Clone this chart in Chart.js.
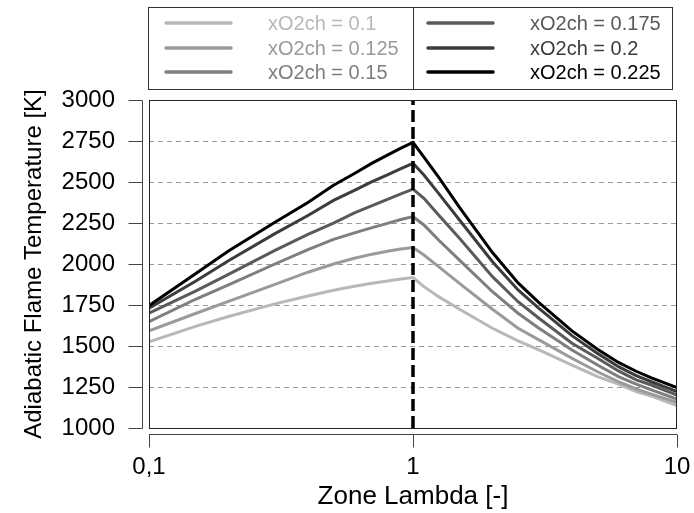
<!DOCTYPE html>
<html>
<head>
<meta charset="utf-8">
<script src="https://cdn.jsdelivr.net/npm/chart.js@4.4.1/dist/chart.umd.min.js"></script>
<style>
html, body { margin: 0; padding: 0; background: #fff; }
#wrap { width: 694px; height: 513px; position: relative; }
</style>
</head>
<body>
<div id="wrap"><canvas id="myChart"></canvas></div>
<script>
// Zone Lambda (x, log axis)
const lambdas = [0.1, 0.15, 0.2, 0.3, 0.4, 0.5, 0.6, 0.7, 0.8, 0.9, 1.0, 1.1, 1.25, 1.5, 2, 2.5, 3, 4, 5, 6, 7, 8, 10];

// adiabatic flame temperature [K] per xO2ch
const t100 = [1526, 1620, 1680, 1757, 1805, 1840, 1864, 1883, 1897, 1908, 1917, 1862, 1801, 1724, 1608, 1531, 1476, 1384, 1313, 1267, 1222, 1195, 1136];
const t125 = [1593, 1698, 1772, 1876, 1950, 2000, 2035, 2060, 2078, 2091, 2100, 2055, 1984, 1882, 1724, 1608, 1537, 1425, 1343, 1282, 1238, 1207, 1157];
const t150 = [1648, 1785, 1872, 2000, 2087, 2150, 2190, 2222, 2248, 2271, 2289, 2238, 2146, 2024, 1831, 1700, 1608, 1476, 1384, 1313, 1267, 1232, 1177];
const t175 = [1700, 1835, 1937, 2083, 2181, 2249, 2312, 2356, 2394, 2428, 2456, 2401, 2299, 2157, 1923, 1770, 1669, 1517, 1425, 1348, 1293, 1262, 1201];
const t200 = [1730, 1895, 2020, 2185, 2296, 2388, 2449, 2502, 2544, 2582, 2614, 2543, 2431, 2268, 2014, 1842, 1730, 1563, 1455, 1374, 1319, 1282, 1222];
const t225 = [1746, 1940, 2079, 2254, 2375, 2480, 2552, 2615, 2664, 2707, 2742, 2651, 2530, 2345, 2070, 1885, 1765, 1592, 1480, 1400, 1346, 1306, 1246];

const seriesLabels = ['xO2ch = 0.1', 'xO2ch = 0.125', 'xO2ch = 0.15', 'xO2ch = 0.175', 'xO2ch = 0.2', 'xO2ch = 0.225'];
const seriesValues = [t100, t125, t150, t175, t200, t225];
const seriesColors = ['#b8b8b8', '#9a9a9a', '#7e7e7e', '#5a5a5a', '#3c3c3c', '#000000'];

const xTicks = [0.1, 1, 10];
const xTickLabels = ['0,1', '1', '10'];
const yMin = 1000, yMax = 3000, yStep = 250;
const stoichLine = 1;

const fam = '"Liberation Sans", Arial, Helvetica, sans-serif';

function punkte(werte) {
	let p = [];
	for (let i = 0; i < lambdas.length; i++) {
		p.push({x: lambdas[i], y: werte[i]});
	}
	return p;
}

const datasets = [{
	label: 'lambda = 1',
	data: [{x: stoichLine, y: yMin}, {x: stoichLine, y: yMax}],
	borderColor: '#000',
	borderWidth: 3.5,
	borderDash: [12, 5],
	pointRadius: 0,
	order: 0
}];
seriesValues.forEach((werte, i) => {
	datasets.push({
		label: seriesLabels[i],
		data: punkte(werte),
		borderColor: seriesColors[i],
		borderWidth: 3,
		pointRadius: 0,
		tension: 0,
		fill: false,
		order: seriesValues.length - i
	});
});

// R-style box, detached axes and boxed two-column legend
const rahmen = {
	id: 'rahmen',
	afterDraw(chart) {
		const c = chart.ctx, a = chart.chartArea;
		const xs = chart.scales.x, ys = chart.scales.y;
		c.save();
		c.setLineDash([]);
		c.strokeStyle = '#222';
		c.lineWidth = 1;
		c.strokeRect(Math.round(a.left) + 0.5, Math.round(a.top) + 0.5, Math.round(a.right - a.left) - 1, Math.round(a.bottom - a.top));

		c.strokeStyle = '#444';
		const ax = Math.round(a.left) - 6.5;
		c.beginPath();
		c.moveTo(ax, ys.getPixelForValue(yMin) + 0.5);
		c.lineTo(ax, ys.getPixelForValue(yMax) + 0.5);
		ys.ticks.forEach(t => {
			const p = Math.round(ys.getPixelForValue(t.value)) + 0.5;
			c.moveTo(ax - 14, p);
			c.lineTo(ax, p);
		});
		const ay = Math.round(a.bottom) + 6.5;
		c.moveTo(xs.getPixelForValue(xTicks[0]), ay);
		c.lineTo(xs.getPixelForValue(xTicks[xTicks.length - 1]), ay);
		xTicks.forEach(v => {
			const p = Math.round(xs.getPixelForValue(v)) + 0.5;
			c.moveTo(p, ay);
			c.lineTo(p, ay + 13);
		});
		c.stroke();

		// legend
		const lx = 148.5, ly = 7.5, lw = 524, lh = 82, mid = 413.5;
		c.strokeStyle = '#333';
		c.strokeRect(lx, ly, lw, lh);
		c.beginPath();
		c.moveTo(mid, ly);
		c.lineTo(mid, ly + lh);
		c.stroke();
		const rows = [23, 48, 72];
		const cols = [{l: 166, t: 268}, {l: 428, t: 530}];
		c.font = '20px ' + fam;
		c.textBaseline = 'middle';
		c.textAlign = 'left';
		c.lineCap = 'round';
		seriesLabels.forEach((lab, i) => {
			const col = cols[Math.floor(i / 3)], y = rows[i % 3];
			c.strokeStyle = seriesColors[i];
			c.lineWidth = 3.5;
			c.beginPath();
			c.moveTo(col.l, y);
			c.lineTo(col.l + 65, y);
			c.stroke();
			c.fillStyle = seriesColors[i];
			c.fillText(lab, col.t, y + 1);
		});
		c.restore();
	}
};

new Chart(document.getElementById('myChart').getContext('2d'), {
	type: 'line',
	data: { datasets: datasets },
	options: {
		responsive: true,
		maintainAspectRatio: false,
		animation: false,
		devicePixelRatio: 1,
		layout: { padding: { top: 100, right: 17, left: 18, bottom: 0 } },
		plugins: { legend: { display: false }, tooltip: { enabled: false } },
		scales: {
			x: {
				type: 'logarithmic',
				min: 0.1,
				max: 10,
				afterBuildTicks: s => { s.ticks = xTicks.map(v => ({value: v})); },
				afterFit: s => { s.height = 85; s.paddingLeft = 0; s.paddingRight = 0; },
				grid: { display: false, drawTicks: false },
				border: { display: false },
				ticks: {
					autoSkip: false,
					maxRotation: 0,
					padding: 25,
					color: '#000',
					font: { family: fam, size: 24 },
					callback: v => xTickLabels[xTicks.indexOf(v)]
				},
				title: {
					display: true,
					text: 'Zone Lambda [-]',
					color: '#000',
					font: { family: fam, size: 26, lineHeight: 0.9 }
				}
			},
			y: {
				min: yMin,
				max: yMax,
				afterFit: s => { s.width = 131; s.paddingTop = 0; s.paddingBottom = 0; },
				grid: { color: '#9a9a9a', lineWidth: 1, drawTicks: false },
				border: { display: false, dash: [5, 4] },
				ticks: {
					stepSize: yStep,
					padding: 34,
					color: '#000',
					font: { family: fam, size: 24 },
					callback: v => String(v)
				},
				title: {
					display: true,
					text: 'Adiabatic Flame Temperature [K]',
					color: '#000',
					font: { family: fam, size: 24, lineHeight: 1 }
				}
			}
		}
	},
	plugins: [rahmen]
});
</script>
</body>
</html>
